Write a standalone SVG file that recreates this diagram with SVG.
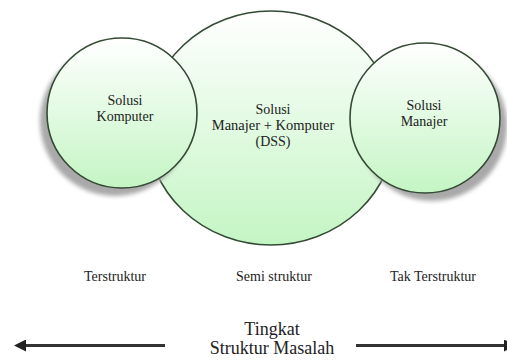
<svg xmlns="http://www.w3.org/2000/svg" width="507" height="360" viewBox="0 0 507 360">
<defs>
<linearGradient id="g" x1="0" y1="0" x2="0" y2="1">
<stop offset="0" stop-color="#ffffff"/>
<stop offset="1" stop-color="#c4f5c4"/>
</linearGradient>
<filter id="blur" x="-20%" y="-20%" width="140%" height="140%">
<feGaussianBlur stdDeviation="2"/>
</filter>
<marker id="ah" viewBox="0 0 12 12" refX="1" refY="6" markerWidth="12" markerHeight="12" markerUnits="userSpaceOnUse" orient="auto-start-reverse">
<path d="M0,0 L12,6 L0,12 Z" fill="#222"/>
</marker>
</defs>
<rect width="507" height="360" fill="#ffffff"/>
<g id="node-dss">
<ellipse fill="url(#g)" stroke="#344a34" stroke-width="1.6" cx="271" cy="128" rx="124" ry="117"/>
<text x="273" y="114" font-family="Times New Roman" font-size="14" fill="#222" text-anchor="middle">Solusi</text>
<text x="273" y="130" font-family="Times New Roman" font-size="14.5" fill="#222" text-anchor="middle">Manajer + Komputer</text>
<text x="273" y="146" font-family="Times New Roman" font-size="14" fill="#222" text-anchor="middle">(DSS)</text>
</g>
<g id="node-komputer">
<circle fill="#a9a9a9" filter="url(#blur)" cx="115" cy="121" r="75"/>
<circle fill="url(#g)" stroke="#344a34" stroke-width="1.6" cx="122" cy="113" r="75"/>
<text x="125" y="105" font-family="Tinos" font-size="14" fill="#222" text-anchor="middle">Solusi</text>
<text x="125" y="121" font-family="Tinos" font-size="14" fill="#222" text-anchor="middle">Komputer</text>
</g>
<g id="node-manajer">
<circle fill="#a9a9a9" filter="url(#blur)" cx="432" cy="126" r="75"/>
<circle fill="url(#g)" stroke="#344a34" stroke-width="1.6" cx="425" cy="118" r="75"/>
<text x="424" y="110" font-family="serif" font-size="14" fill="#222" text-anchor="middle">Solusi</text>
<text x="424" y="126" font-family="serif" font-size="14" fill="#222" text-anchor="middle">Manajer</text>
</g>
<g id="labels">
<text x="115" y="281" font-family="Liberation Serif" font-size="14" fill="#222" text-anchor="middle">Terstruktur</text>
<text x="274" y="281" font-family="Liberation Serif" font-size="14" fill="#222" text-anchor="middle">Semi struktur</text>
<text x="433" y="281" font-family="Liberation Serif" font-size="14" fill="#222" text-anchor="middle">Tak Terstruktur</text>
</g>
<text x="272" y="335" font-family="Liberation Serif" font-size="18" fill="#222" text-anchor="middle">Tingkat</text>
<text x="272" y="354" font-family="Liberation Serif" font-size="18" fill="#222" text-anchor="middle">Struktur Masalah</text>
<g id="connectors">
<line stroke="#333" stroke-width="3" x1="165" y1="345.5" x2="25" y2="345.5" marker-end="url(#ah)"/>
<line stroke="#333" stroke-width="3" x1="356" y1="345.5" x2="505" y2="345.5" marker-end="url(#ah)"/>
</g>
</svg>
